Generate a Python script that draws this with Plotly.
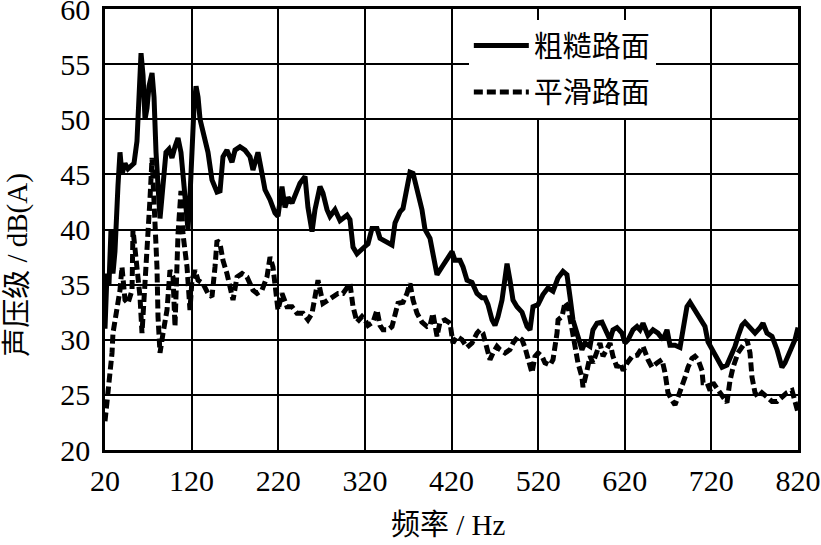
import plotly.graph_objects as go

# 粗糙路面 (rough road) — frequency (Hz) and sound pressure level dB(A)
rough_freq = [20, 22.3, 24.6, 26.9, 29.2, 31.5, 35, 37.3, 39.6, 43.1, 46.5, 50, 53.5, 56.9, 59.3, 61.6, 63.9,
              66.2, 68.5, 70.8, 74.3, 76.6, 78.9, 81.2, 83.5, 85.8, 88.1, 90.4, 93.9, 97.3, 100.8, 104.3,
              107.7, 111.2, 113.5, 115.8, 118.1, 120.4, 122.7, 125.1, 127.4, 129.7, 135.4, 138.9, 143.5,
              149.3, 152.8, 156.2, 160.8, 166.6, 170.1, 175.8, 181.6, 187.4, 190.8, 196.6, 201.2, 204.7,
              210.5, 216.2, 219.7, 224.3, 227.8, 231.3, 235.9, 239.3, 245.1, 250.9, 254.3, 259, 262.4,
              268.2, 271.6, 276.3, 279.7, 285.5, 291.3, 299.4, 302.8, 306.3, 310.9, 317.8, 323.6, 328.2,
              334, 337.5, 345.5, 351.3, 354.8, 360.5, 364, 368.6, 372.1, 375.6, 380.2, 385.9, 389.4,
              395.2, 398.6, 403.3, 409, 414.8, 420.6, 424, 429.8, 433.3, 437.9, 443.7, 449.4, 455.2,
              458.7, 462.1, 466.8, 470.2, 473.7, 478.3, 481.8, 484.1, 487.5, 491, 495.6, 501.4, 507.2,
              510.6, 514.1, 519.9, 525.6, 531.4, 537.2, 542.9, 548.7, 553.3, 556.8, 560.2, 566, 570.6,
              574.1, 579.9, 583.3, 588, 593.7, 597.2, 603, 606.4, 611, 616.8, 620.3, 623.8, 629.5, 634.1,
              637.6, 641.1, 646.8, 652.6, 658.4, 664.2, 668.8, 672.2, 678, 683.8, 687.2, 691.8, 695.3,
              701.1, 706.8, 712.6, 716.1, 720.7, 726.5, 732.3, 738, 741.5, 747.3, 750.7, 755.3, 758.8,
              764.6, 770.4, 776.1, 779.6, 784.2, 790, 795.8, 801.5, 805, 810.8, 816.5, 820]
rough_level = [31, 36, 35, 40, 36, 38, 44, 47, 45, 46, 45.5, 45.8, 46, 48, 53, 56, 54,
               50, 51, 53, 54.2, 52, 47, 43, 41, 43, 45, 47, 47.3, 46.5, 47.5, 48.3,
               47, 44, 41, 40, 43, 48, 51, 53, 52, 50, 47.8, 47, 44.5,
               43.4, 43.5, 46.6, 47.2, 46.1, 47.2, 47.5, 47.2, 46.6, 45.4, 47, 45.1, 43.6,
               42.7, 41.5, 41.2, 43.9, 42, 42.9, 42.4, 43, 44.2, 44.8, 42, 39.8, 41.8,
               43.9, 43.3, 41.8, 41.2, 41.8, 40.8, 41.3, 40.9, 38.4, 37.8, 38.3, 38.7, 40.1,
               40.1, 39.2, 38.9, 38.6, 40.6, 41.6, 41.9, 43.6, 45.2, 45.1, 43.6, 41.8, 40,
               39.2, 37.8, 35.9, 36.6, 37.4, 38, 37.2, 37.2, 36.6, 35.4, 35.2, 34.2, 33.8,
               33.8, 33.2, 31.8, 31.3, 32.1, 33.6, 35.7, 36.9, 35.4, 33.6, 33, 32.5, 31.2,
               30.9, 33, 33.2, 34.1, 34.7, 34.4, 35.6, 36.2, 35.9, 33.9, 31.8, 30.3, 29.1,
               29.7, 29.4, 30.9, 31.5, 31.6, 30.9, 30, 30.9, 31.1, 30.6, 29.7, 30, 30.9, 31.2,
               30.9, 31.5, 30.4, 30.9, 30.6, 30, 30.9, 29.5, 29.5, 29.3, 31.2, 33, 33.4,
               32.7, 32, 31.2, 29.8, 29.1, 28.2, 27.5, 27.7, 28.3, 29.4, 30.3, 31.3, 31.6,
               31.1, 30.6, 31.1, 31.5, 30.6, 30.3, 29.1, 27.5, 27.9, 29.1, 30, 31.1]

# 平滑路面 (smooth road)
smooth_freq = [20, 22.3, 25.8, 28.1, 29.2, 33.9, 37.3, 39.6, 40.8, 43.1, 46.5, 51.2, 52.3, 54.6, 56.9,
               60.4, 62.7, 66.2, 69.6, 71.9, 74.3, 77.7, 80, 81.2, 83.5, 87, 91.6, 95, 98.5, 100.8,
               103.1, 104.3, 107.7, 110, 114.7, 118.1, 120.4, 123.9, 127.4, 133.1, 138.9, 143.5, 147,
               149.3, 152.8, 156.2, 160.8, 164.3, 167.8, 172.4, 178.2, 183.9, 190.8, 195.5, 201.2,
               207, 210.5, 213.9, 216.2, 219.7, 224.3, 230.1, 235.9, 241.6, 248.6, 254.3, 259, 262.4,
               265.9, 271.6, 277.4, 282, 289, 294.7, 300.5, 302.8, 306.3, 310.9, 316.7, 320.1, 323.6,
               329.4, 334, 337.5, 340.9, 346.7, 351.3, 354.8, 358.2, 364, 368.6, 372.1, 375.6, 380.2,
               385.9, 391.7, 395.2, 398.6, 403.3, 406.7, 412.5, 418.3, 421.7, 426.3, 432.1, 437.9,
               443.7, 449.4, 452.9, 456.3, 461, 464.4, 467.9, 472.5, 476, 481.8, 487.5, 491, 496.8,
               501.4, 504.8, 508.3, 512.9, 516.4, 519.9, 524.5, 527.9, 533.7, 537.2, 541.8, 543,
               547.6, 551.1, 554.5, 559.1, 562.6, 566, 570.6, 571.8, 576.4, 579.9, 583.3, 588, 591.4,
               594.9, 599.5, 603, 606.4, 611, 614.5, 618.2, 622.8, 628.6, 634.4, 641.1, 646.8, 651.5,
               657.2, 663, 666.5, 669.9, 674.5, 678, 681.5, 686.1, 689.6, 693, 697.6, 701.1, 704.6,
               709.2, 710.4, 715, 718.5, 721.9, 726.5, 730, 733.4, 738, 741.5, 745, 750.7, 756.5,
               761.1, 764.6, 766.9, 770.4, 773.8, 778.4, 784.2, 790, 795.8, 801.5, 807.3, 813.1,
               816.5, 820]
smooth_level = [22.6, 24.3, 26.4, 28.8, 30.6, 32.7, 34.5, 36.6, 35.7, 33.6, 33.3, 34.5, 40, 38, 37,
                33.9, 30.6, 34.8, 38.7, 42.7, 46.5, 41.2, 36.6, 32.1, 28.8, 30.6, 32.7, 36.3, 35.7, 31.2,
                36.6, 39.6, 43.5, 39.6, 36.6, 32.7, 35.4, 36.3, 35.4, 35.1, 34.2, 33.9, 36.6,
                39, 38.7, 37.2, 36, 34.5, 33.6, 35.7, 36, 35.7, 34.5, 34.2, 34.5,
                35.7, 37.5, 36.6, 35.1, 32.7, 34.2, 33, 33, 32.4, 32.4, 31.8, 32.4, 34.2,
                35.4, 33.3, 33.6, 33.9, 34.2, 34.2, 34.8, 35.1, 33, 31.6, 32.1, 31.8, 31.3,
                31.6, 32.7, 31.3, 30.9, 30.9, 31.2, 32.4, 33.3, 33.4, 34.2, 35.1, 33.6, 32.4,
                31.6, 31.2, 31.3, 32.4, 30.3, 31.6, 31.8, 31.5, 29.7, 30.3, 30, 29.3,
                29.7, 30.6, 30.9, 30.6, 29.4, 28.2, 28.8, 29.4, 29.1, 28.8, 29.1, 29.7, 30.3,
                30, 29.3, 28.2, 27, 28.5, 28.8, 28.5, 27.9, 27.7, 28.2, 30.6, 31.8,
                32.1, 33.4, 33, 30.9, 29.1, 27.9, 26.6, 25.7, 27.2, 28.5, 27.9, 29.1, 29.7,
                28.5, 29.1, 29.7, 28.5, 27.5, 27.9, 27.2, 27.9, 28.5, 28.6, 29.4, 28.2, 27.5,
                27.9, 28.2, 27, 25.2, 24.5, 24.1, 24.8, 25.7, 26.6, 27.5, 28.3, 28.5, 28.2,
                27.2, 26.1, 26.1, 25.4, 26.1, 25.6, 25.2, 24.7, 24.3, 26.3, 27.5, 28.8, 29.4,
                30, 28.8, 26.6, 25.2, 24.8, 25.2, 24.8, 24.4, 24.4, 24.8, 25.2, 25.4,
                24.5, 23.4]

x_ticks = [20, 120, 220, 320, 420, 520, 620, 720, 820]
y_ticks = [20, 25, 30, 35, 40, 45, 50, 55, 60]

FONT = "Liberation Serif, Noto Sans CJK SC, serif"

fig = go.Figure()
fig.add_trace(go.Scatter(x=rough_freq, y=rough_level, mode="lines", name="粗糙路面",
                         legendgroup="rough",
                         line=dict(color="black", width=5)))
fig.add_trace(go.Scatter(x=smooth_freq, y=smooth_level, mode="lines", name="平滑路面",
                         legendgroup="smooth",
                         line=dict(color="black", width=5, dash="9px,4px")))

axis_common = dict(showline=True, linecolor="black", linewidth=2.5, mirror=True,
                   showgrid=True, gridcolor="black", gridwidth=2, zeroline=False,
                   automargin=False, ticklabeloverflow="allow",
                   ticks="", tickfont=dict(family=FONT, size=30, color="black"))

fig.update_xaxes(range=[20, 820], tickvals=x_ticks, ticktext=[str(v) for v in x_ticks],
                 ticklabelstandoff=2, **axis_common)
fig.update_yaxes(range=[20, 60], tickvals=y_ticks, ticktext=[str(v) for v in y_ticks],
                 ticklabelstandoff=6, **axis_common)

fig.update_layout(
    width=821, height=545,
    margin=dict(l=105, r=23, t=9, b=95),
    plot_bgcolor="white", paper_bgcolor="white",
    font=dict(family=FONT, color="black"),
    legend=dict(x=0.525, y=0.975, xanchor="left", yanchor="top",
                bgcolor="white", borderwidth=0, itemwidth=55,
                entrywidth=165, entrywidthmode="pixels",
                font=dict(family=FONT, size=29, color="black"),
                tracegroupgap=6),
    annotations=[
        dict(text="频率 / Hz", xref="paper", yref="paper", x=0.495, y=-0.17,
             xanchor="center", yanchor="middle", showarrow=False,
             font=dict(family=FONT, size=29, color="black")),
        dict(text="声压级 / dB(A)", xref="paper", yref="paper", x=-0.1255, y=0.42,
             xanchor="center", yanchor="middle", showarrow=False, textangle=-90,
             font=dict(family=FONT, size=29, color="black")),
    ],
)

fig.write_html("out.html", config={"displayModeBar": False},
               post_script="document.body.style.margin='0px';")
